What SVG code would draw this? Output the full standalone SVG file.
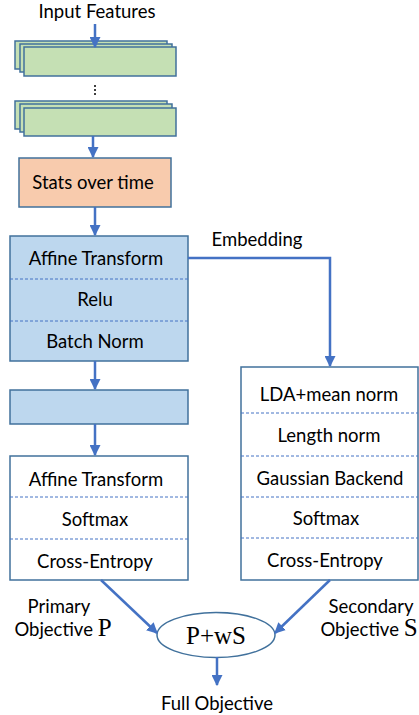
<svg xmlns="http://www.w3.org/2000/svg" width="419" height="715" viewBox="0 0 419 715">
  <style>
    .t { font-family: Lato, "Liberation Sans", sans-serif; font-size: 18.5px; fill: #000; text-anchor: middle; }
    .m { font-family: "Liberation Serif", "DejaVu Serif", serif; font-size: 25px; fill: #000; }
    .box { stroke: #41719c; stroke-width: 1.5; }
    .white { fill: #ffffff; }
    .blue { fill: #bdd7ee; }
    .green { fill: #c5e0b4; }
    .peach { fill: #f8cbad; }
    .div { stroke: #4472c4; stroke-width: 1; stroke-dasharray: 3 2; }
    .conn { stroke: #4472c4; stroke-width: 2.5; fill: none; }
  </style>
  <defs>
    <marker id="arr" viewBox="0 0 10 10" refX="9" refY="5" markerWidth="4.4" markerHeight="4.4" orient="auto" markerUnits="strokeWidth">
      <path d="M0,0 L10,5 L0,10 z" fill="#4472c4"/>
    </marker>
  </defs>

  <rect width="419" height="715" fill="#ffffff"/>

  <g id="input-label">
    <text class="t" x="97" y="18">Input Features</text>
  </g>

  <g id="frames-top">
    <rect class="box green" x="15" y="41" width="152" height="28"/>
    <rect class="box green" x="20" y="44" width="152" height="28"/>
    <rect class="box green" x="24" y="47" width="152" height="29"/>
  </g>

  <g id="ellipsis">
    <circle cx="95" cy="86" r="1" fill="#000"/>
    <circle cx="95" cy="90" r="1" fill="#000"/>
    <circle cx="95" cy="94" r="1" fill="#000"/>
  </g>

  <g id="frames-bottom">
    <rect class="box green" x="15" y="101" width="152" height="28"/>
    <rect class="box green" x="20" y="104" width="152" height="28"/>
    <rect class="box green" x="24" y="108" width="152" height="28"/>
  </g>

  <g id="stats">
    <rect class="box peach" x="19" y="158" width="152" height="49"/>
    <text class="t" x="93" y="189">Stats over time</text>
  </g>

  <g id="hidden-1">
    <rect class="box blue" x="10" y="236" width="178" height="125"/>
    <line class="div" x1="10" y1="279" x2="188" y2="279"/>
    <line class="div" x1="10" y1="321" x2="188" y2="321"/>
    <text class="t" x="96" y="265">Affine Transform</text>
    <text class="t" x="95" y="306">Relu</text>
    <text class="t" x="95" y="348">Batch Norm</text>
  </g>

  <g id="hidden-2">
    <rect class="box blue" x="10" y="390" width="178" height="34"/>
  </g>

  <g id="primary-head">
    <rect class="box white" x="10" y="456" width="178" height="124"/>
    <line class="div" x1="10" y1="497" x2="188" y2="497"/>
    <line class="div" x1="10" y1="539" x2="188" y2="539"/>
    <text class="t" x="96" y="486">Affine Transform</text>
    <text class="t" x="95" y="526">Softmax</text>
    <text class="t" x="95" y="568">Cross-Entropy</text>
  </g>

  <g id="secondary-head">
    <rect class="box white" x="241" y="367" width="177" height="213"/>
    <line class="div" x1="241" y1="413" x2="418" y2="413"/>
    <line class="div" x1="241" y1="456" x2="418" y2="456"/>
    <line class="div" x1="241" y1="497" x2="418" y2="497"/>
    <line class="div" x1="241" y1="538" x2="418" y2="538"/>
    <text class="t" x="329" y="401">LDA+mean norm</text>
    <text class="t" x="329" y="442">Length norm</text>
    <text class="t" x="330" y="485">Gaussian Backend</text>
    <text class="t" x="326" y="525">Softmax</text>
    <text class="t" x="325" y="567">Cross-Entropy</text>
  </g>

  <g id="combine">
    <ellipse cx="216" cy="635" rx="59" ry="22.5" fill="#ffffff" stroke="#41719c" stroke-width="1.5"/>
    <text class="m" x="216" y="644" text-anchor="middle">P+wS</text>
  </g>

  <g id="labels">
    <text class="t" x="257" y="246">Embedding</text>
    <text class="t" x="59" y="613">Primary</text>
    <text class="t" x="63" y="636">Objective <tspan class="m" font-size="21">P</tspan></text>
    <text class="t" x="371" y="613">Secondary</text>
    <text class="t" x="369" y="636">Objective <tspan class="m" font-size="21">S</tspan></text>
    <text class="t" x="217" y="710">Full Objective</text>
  </g>

  <g id="connectors">
    <line class="conn" x1="95" y1="24" x2="95" y2="47" marker-end="url(#arr)"/>
    <line class="conn" x1="93" y1="136" x2="93" y2="157" marker-end="url(#arr)"/>
    <line class="conn" x1="95" y1="207" x2="95" y2="235" marker-end="url(#arr)"/>
    <polyline class="conn" points="188,258 330,258 330,366" marker-end="url(#arr)"/>
    <line class="conn" x1="95" y1="361" x2="95" y2="389" marker-end="url(#arr)"/>
    <line class="conn" x1="95" y1="424" x2="95" y2="455" marker-end="url(#arr)"/>
    <line class="conn" x1="101" y1="580" x2="157" y2="633" marker-end="url(#arr)"/>
    <line class="conn" x1="330" y1="580" x2="275" y2="633" marker-end="url(#arr)"/>
    <line class="conn" x1="217" y1="657" x2="217" y2="685" marker-end="url(#arr)"/>
  </g>
</svg>
